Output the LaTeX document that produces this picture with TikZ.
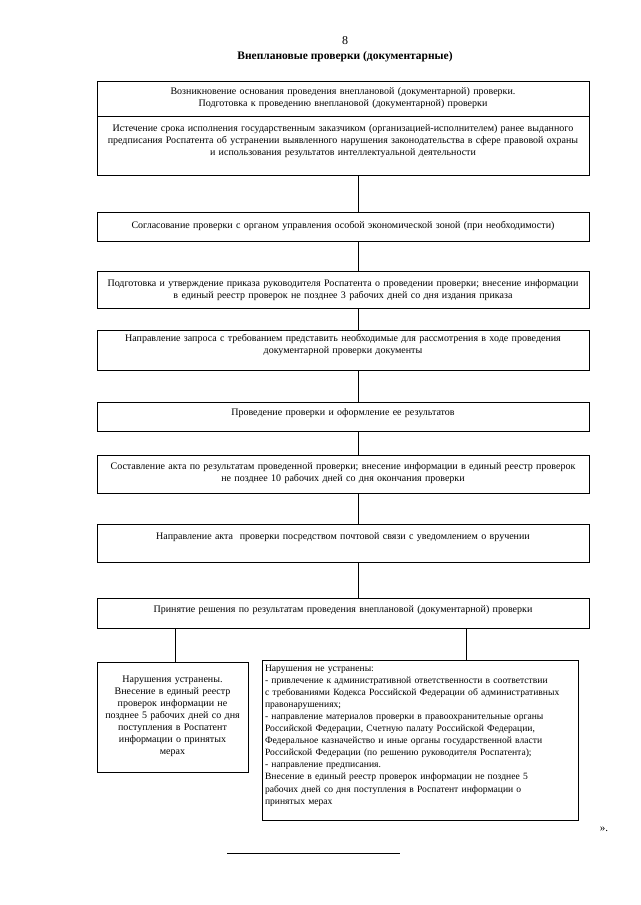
\documentclass[tikz,border=0pt]{standalone}
\usepackage{fontspec}
\setmainfont{Liberation Serif}
\usepackage{tikz}
\usetikzlibrary{positioning}

\begin{document}
\begin{tikzpicture}[x=1pt, y=-1pt, every node/.style={font=\fontsize{10}{12}\selectfont},
  stepbox/.style={draw, line width=0.9pt, outer sep=0pt, inner xsep=4pt, inner ysep=0pt, text width=484pt, align=center},
  sidebox/.style={draw, line width=0.9pt, outer sep=0pt, inner ysep=0pt}]
\useasboundingbox (0,0) rectangle (640,905);
\node (num) at (345,41) {\fontsize{12}{14}\selectfont 8};
\node (title) at (345,57) {\fontsize{11.5}{14}\selectfont\bfseries Внеплановые проверки (документарные)};
% main chain
\node[stepbox, anchor=north, text height=13pt, text depth=22pt] (start1) at (343,81) {Возникновение основания проведения внеплановой (документарной) проверки.\\ Подготовка к проведению внеплановой (документарной) проверки};
\node[stepbox, below=0pt of start1, text height=15pt, text depth=44pt] (start2) {Истечение срока исполнения государственным заказчиком (организацией-исполнителем) ранее выданного\\ предписания Роспатента об устранении выявленного нарушения законодательства в сфере правовой охраны\\ и использования результатов интеллектуальной деятельности};
\node[stepbox, below=37pt of start2, text height=16pt, text depth=13pt] (agree) {Согласование проверки с органом управления особой экономической зоной (при необходимости)};
\node[stepbox, below=30pt of agree, text height=15pt, text depth=22pt] (order) {Подготовка и утверждение приказа руководителя Роспатента о проведении проверки; внесение информации\\ в единый реестр проверок не позднее 3 рабочих дней со дня издания приказа};
\node[stepbox, below=22pt of order, text height=11pt, text depth=29pt] (request) {Направление запроса с требованием представить необходимые для рассмотрения в ходе проведения\\ документарной проверки документы};
\node[stepbox, below=32pt of request, text height=13pt, text depth=16pt] (conduct) {Проведение проверки и оформление ее результатов};
\node[stepbox, below=24pt of conduct, text height=14pt, text depth=24pt] (act) {Составление акта по результатам проведенной проверки; внесение информации в единый реестр проверок\\ не позднее 10 рабочих дней со дня окончания проверки};
\node[stepbox, below=31pt of act, text height=15pt, text depth=23pt] (send) {Направление акта\ \ проверки посредством почтовой связи с уведомлением о вручении};
\node[stepbox, below=36pt of send, text height=14pt, text depth=16pt] (decide) {Принятие решения по результатам проведения внеплановой (документарной) проверки};
% outcomes
\node[sidebox, below right=34pt and 0pt of decide.south west, inner xsep=4pt, text width=143pt, align=center, text height=20pt, text depth=90pt] (fixed) {Нарушения устранены.\\ Внесение в единый реестр\\ проверок информации не\\ позднее 5 рабочих дней со дня\\ поступления в Роспатент\\ информации о принятых\\ мерах};
\node[sidebox, below right=32pt and 165pt of decide.south west, inner xsep=3pt, text width=310pt, align=left, font=\fontsize{9.6}{12.1}\selectfont, text height=11pt, text depth=149pt] (notfixed) {Нарушения не устранены:\\ - привлечение к административной ответственности в соответствии\\ с требованиями Кодекса Российской Федерации об административных\\ правонарушениях;\\ - направление материалов проверки в правоохранительные органы\\ Российской Федерации, Счетную палату Российской Федерации,\\ Федеральное казначейство и иные органы государственной власти\\ Российской Федерации (по решению руководителя Роспатента);\\ - направление предписания.\\ Внесение в единый реестр проверок информации не позднее 5\\ рабочих дней со дня поступления в Роспатент информации о\\ принятых мерах};
% connectors
\coordinate (axis) at (358,0);
\coordinate (lbr) at (175,0);
\coordinate (rbr) at (466,0);
\foreach \a/\b in {start2/agree, agree/order, order/request, request/conduct, conduct/act, act/send, send/decide}
  \draw[line width=0.9pt] (\a.south -| axis) -- (\b.north -| axis);
\draw[line width=0.9pt] (decide.south -| lbr) -- (fixed.north -| lbr);
\draw[line width=0.9pt] (decide.south -| rbr) -- (notfixed.north -| rbr);
\node (quote) at (604,829) {\fontsize{11}{13}\selectfont ».};
\draw[line width=0.8pt] (227,853) -- (400,853);
\end{tikzpicture}
\end{document}
